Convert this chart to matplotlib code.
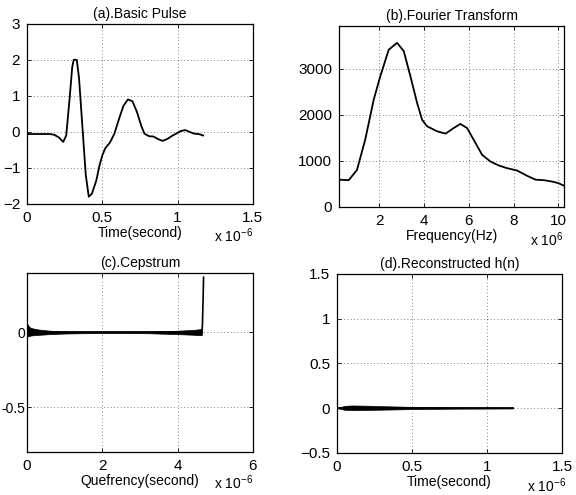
import numpy as np
import matplotlib
matplotlib.use('Agg')
import matplotlib.pyplot as plt

plt.rcParams['font.family'] = ['Liberation Sans', 'DejaVu Sans']
plt.rcParams['font.size'] = 11
plt.rcParams['mathtext.fontset'] = 'custom'
plt.rcParams['mathtext.rm'] = 'Liberation Sans'

# (a) basic pulse, time in units of 1e-6 s
t_pulse = [0.0, 0.05, 0.10, 0.15, 0.18, 0.21, 0.24, 0.26, 0.28, 0.30, 0.31, 0.33,
           0.345, 0.37, 0.39, 0.41, 0.43, 0.46, 0.48, 0.50, 0.52, 0.55, 0.58, 0.61,
           0.64, 0.67, 0.70, 0.73, 0.76, 0.78, 0.81, 0.84, 0.87, 0.90, 0.93, 0.96,
           0.99, 1.02, 1.05, 1.08, 1.11, 1.14, 1.17]
amp_pulse = [-0.06, -0.06, -0.06, -0.06, -0.08, -0.15, -0.28, -0.10, 0.8, 1.8, 2.0, 2.0,
             1.5, 0.0, -1.2, -1.8, -1.72, -1.35, -0.95, -0.65, -0.45, -0.30, -0.05, 0.35,
             0.72, 0.90, 0.85, 0.55, 0.15, -0.05, -0.12, -0.13, -0.20, -0.25, -0.20, -0.12,
             -0.05, 0.02, 0.05, 0.0, -0.05, -0.06, -0.10]

# (b) fourier transform magnitude, frequency in units of 1e6 Hz
freq = [0.21, 0.63, 1.0, 1.37, 1.75, 2.04, 2.42, 2.79, 3.09, 3.39, 3.69, 3.91, 4.13,
        4.58, 4.96, 5.32, 5.62, 5.92, 6.21, 6.59, 6.96, 7.33, 7.71, 8.15, 8.6, 8.98,
        9.35, 9.72, 10.0, 10.27]
mag = [590, 580, 800, 1460, 2330, 2830, 3410, 3560, 3380, 2830, 2250, 1890, 1750,
       1640, 1590, 1710, 1800, 1710, 1460, 1130, 985, 900, 840, 790, 675, 590,
       580, 550, 515, 455]

# (c) cepstrum: envelope of the noisy band plus the final spike (units of 1e-6 s)
q_env = [0.0, 0.05, 0.1, 0.3, 0.6, 1.0, 1.5, 2.0, 2.6, 3.2, 3.6, 4.0, 4.4, 4.6, 4.64]
cep_hi = [0.06, 0.04, 0.03, 0.02, 0.012, 0.007, 0.005, 0.004, 0.004, 0.005, 0.008,
          0.012, 0.017, 0.022, 0.025]
cep_lo = [-0.025, -0.025, -0.02, -0.016, -0.011, -0.007, -0.005, -0.004, -0.004, -0.005,
          -0.008, -0.011, -0.015, -0.018, -0.018]
q_spike = [4.64, 4.66, 4.68, 4.69]
cep_spike = [-0.01, 0.05, 0.25, 0.37]

# (d) reconstructed h(n): envelope of the small oscillation (units of 1e-6 s)
t_rec = [0.0, 0.05, 0.1, 0.2, 0.3, 0.4, 0.5, 0.6, 0.8, 1.0, 1.17]
rec_hi = [0.0, 0.025, 0.03, 0.027, 0.022, 0.018, 0.014, 0.011, 0.007, 0.005, 0.004]
rec_lo = [0.0, -0.018, -0.022, -0.02, -0.017, -0.014, -0.011, -0.009, -0.006, -0.005, -0.004]

fig = plt.figure(figsize=(5.76, 4.95), dpi=100)
axa = fig.add_axes([0.047, 0.588, 0.392, 0.364])
axb = fig.add_axes([0.589, 0.582, 0.391, 0.366])
axc = fig.add_axes([0.047, 0.087, 0.392, 0.362])
axd = fig.add_axes([0.585, 0.085, 0.391, 0.362])

def style(ax):
    ax.grid(True, color='0.35', linestyle=(0, (1, 3)), linewidth=0.6)
    ax.tick_params(direction='in', top=True, right=True, length=3, width=0.6,
                   labelsize=11, pad=5)
    for s in ax.spines.values():
        s.set_linewidth(0.9)

axa.plot(t_pulse, amp_pulse, color='black', lw=1.3)
axa.set_xlim(0, 1.5)
axa.set_ylim(-2, 3)
axa.set_xticks([0, 0.5, 1, 1.5])
axa.set_xticklabels(['0', '0.5', '1', '1.5'])
axa.set_yticks([-2, -1, 0, 1, 2, 3])
axa.set_title('(a).Basic Pulse', fontsize=10, pad=4)
axa.set_xlabel('Time(second)', fontsize=10, labelpad=1)
style(axa)

axb.plot(freq, mag, color='black', lw=1.3)
axb.set_xlim(0.21, 10.27)
axb.set_ylim(0, 3930)
axb.set_xticks([2, 4, 6, 8, 10])
axb.set_yticks([0, 1000, 2000, 3000])
axb.set_title('(b).Fourier Transform', fontsize=10, pad=4)
axb.set_xlabel('Frequency(Hz)', fontsize=10, labelpad=1)
style(axb)

axc.fill_between(q_env, cep_lo, cep_hi, color='black', lw=0.5)
axc.plot(q_env, [0] * len(q_env), color='black', lw=1.3)
axc.plot(q_spike, cep_spike, color='black', lw=1.2)
axc.set_xlim(0, 6)
axc.set_ylim(-0.8, 0.4)
axc.set_xticks([0, 2, 4, 6])
axc.set_yticks([-0.5, 0])
axc.set_yticklabels(['-0.5', '0'])
axc.set_title('(c).Cepstrum', fontsize=10, pad=4)
axc.set_xlabel('Quefrency(second)', fontsize=10, labelpad=1)
style(axc)
axc.tick_params(axis='y', pad=1, labelsize=10)

axd.fill_between(t_rec, rec_lo, rec_hi, color='black', lw=0.5)
axd.plot([0, 1.17], [0, 0], color='black', lw=1.3)
axd.set_xlim(0, 1.5)
axd.set_ylim(-0.5, 1.5)
axd.set_xticks([0, 0.5, 1, 1.5])
axd.set_xticklabels(['0', '0.5', '1', '1.5'])
axd.set_yticks([-0.5, 0, 0.5, 1, 1.5])
axd.set_yticklabels(['\u22120.5', '0', '0.5', '1', '1.5'])
axd.set_title('(d).Reconstructed h(n)', fontsize=10, pad=4)
axd.set_xlabel('Time(second)', fontsize=10, labelpad=1)
style(axd)

# MATLAB style exponent labels
fig.text(214 / 576, 1 - 242 / 495, r'x 10$^{-6}$', fontsize=10)
fig.text(530 / 576, 1 - 246 / 495, r'x 10$^{6}$', fontsize=10)
fig.text(214 / 576, 1 - 489 / 495, r'x 10$^{-6}$', fontsize=10)
fig.text(527 / 576, 1 - 492 / 495, r'x 10$^{-6}$', fontsize=10)

fig.savefig('out.png', dpi=100)
